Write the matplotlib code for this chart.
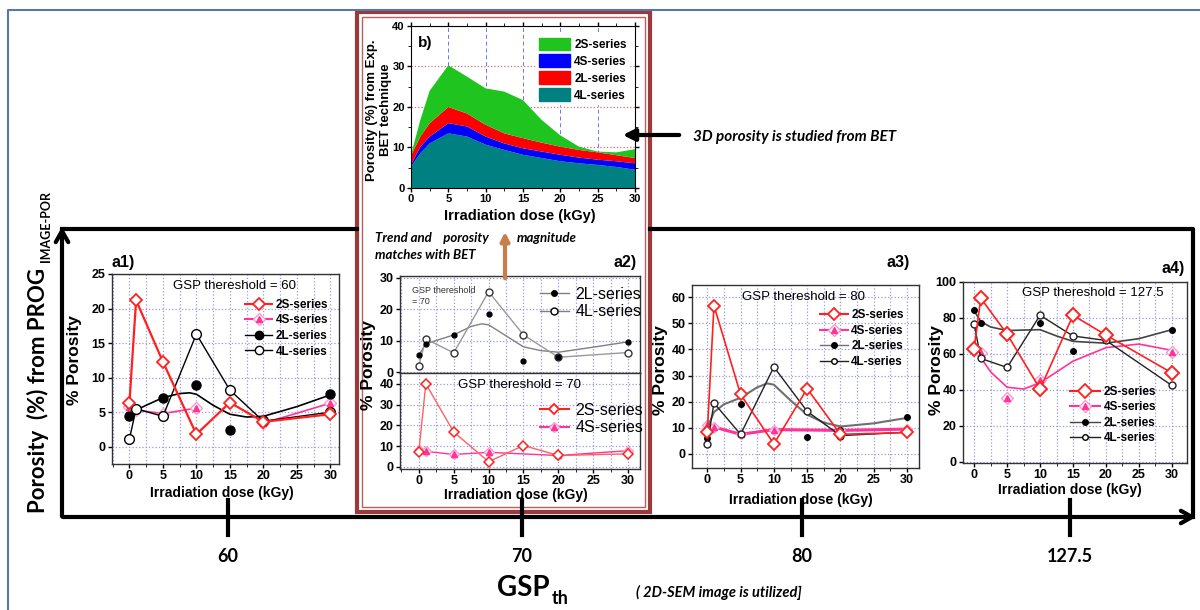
import numpy as np
import matplotlib.pyplot as plt
from matplotlib.patches import Rectangle, Patch
from matplotlib.lines import Line2D
from matplotlib.ticker import MultipleLocator

plt.rcParams['font.family'] = ['Liberation Sans', 'DejaVu Sans']

W, H = 1200, 610

# ---- data ----
dose = [0, 1, 5, 10, 15, 20, 30]

# a1) GSP threshold = 60
a1_2s = [6.3, 21.2, 12.3, 1.8, 6.4, 3.6, 4.7]
a1_4s = [5.8, 5.3, 4.8, 5.6, np.nan, 3.4, 6.3]
a1_2l = [4.5, np.nan, 7.0, 8.9, 2.4, 3.8, 7.6]
a1_4l = [1.1, 5.5, 4.4, 16.3, 8.2, 3.7, 5.0]
a1_2l_fit_x = [0, 1, 2.5, 5, 7.5, 9, 10, 12.5, 15, 17.5, 20, 25, 30]
a1_2l_fit_y = [4.6, 5.3, 6.0, 7.1, 7.7, 7.8, 7.6, 6.0, 4.7, 4.3, 4.4, 5.8, 7.5]

# a2) GSP threshold = 70
a2_2l = [5.3, 9.0, 11.8, 18.5, 3.5, 4.7, 9.6]
a2_4l = [2.0, 10.5, 6.1, 25.5, 11.8, 4.7, 6.2]
a2_2l_fit_x = [0, 1, 2.5, 5, 7.5, 9, 10, 12.5, 15, 17.5, 20, 25, 30]
a2_2l_fit_y = [5.3, 9.0, 10.0, 11.8, 14.5, 15.3, 15.0, 11.5, 8.0, 6.8, 6.3, 7.9, 9.6]
a2_2s = [7.3, 40.0, 16.8, 2.5, 10.3, 5.5, 6.3]
a2_4s = [8.0, 7.5, 6.0, 7.0, np.nan, 5.5, 7.8]

# a3) GSP threshold = 80
a3_2s = [8.3, 56.8, 22.8, 3.8, 25.0, 7.5, 8.2]
a3_4s = [11.0, 10.3, 7.5, 9.3, np.nan, 9.0, 9.5]
a3_2l = [6.2, np.nan, 19.3, np.nan, 6.5, 9.0, 14.0]
a3_4l = [3.7, 19.5, 7.5, 33.3, 16.3, 7.0, 8.3]
a3_2l_fit_x = [0, 1, 2.5, 5, 7.5, 9, 10, 12.5, 15, 17.5, 20, 25, 30]
a3_2l_fit_y = [10.0, 16.0, 19.0, 21.5, 25.5, 27.0, 26.5, 20.5, 15.0, 12.0, 10.5, 11.7, 13.8]

# a4) GSP threshold = 127.5
a4_2s = [63.0, 91.0, 71.0, 40.5, 81.5, 70.5, 49.5]
a4_4s = [63.0, 60.5, 35.5, 45.5, np.nan, 71.0, 61.0]
a4_2l = [84.5, 77.0, 71.5, 77.0, 61.5, 67.5, 73.5]
a4_4l = [76.5, 57.5, 52.5, 81.5, 70.0, 67.5, 42.5]
a4_2l_fit_x = [0, 1, 2.5, 5, 7.5, 10, 12.5, 15, 20, 25, 30]
a4_2l_fit_y = [84.0, 78.0, 75.0, 73.0, 73.3, 73.5, 70.0, 67.0, 66.0, 68.5, 73.5]
a4_4s_fit_x = [0, 1, 2.5, 5, 7.5, 10, 15, 20, 25, 30]
a4_4s_fit_y = [64.0, 58.0, 50.0, 41.5, 40.5, 44.0, 56.0, 63.5, 65.5, 62.0]

# b) BET porosity, stacked layers (bottom to top: 4L, 4S, 2L, 2S)
bet_dose = [0, 1.25, 2.5, 5, 7.5, 10, 12.5, 15, 17.5, 20, 22.5, 25, 27.5, 30]
bet_4l = [5.3, 8.6, 11.0, 13.5, 12.7, 10.7, 9.4, 8.2, 7.4, 6.6, 6.1, 5.7, 5.2, 4.5]
bet_4s = [0.4, 1.6, 1.7, 2.5, 2.5, 2.0, 1.6, 1.6, 1.6, 1.6, 1.4, 1.3, 1.4, 1.6]
bet_2l = [2.3, 2.5, 3.3, 4.0, 3.2, 2.9, 2.5, 2.5, 2.2, 2.0, 1.9, 1.8, 1.5, 1.3]
bet_2s = [0.2, 4.1, 8.0, 10.3, 9.1, 9.0, 10.3, 9.4, 5.6, 2.8, 0.8, 0.2, 0.7, 2.2]

gsp_ticks = [60, 70, 80, 127.5]
gsp_tick_px = [228, 522, 802, 1070]

RED = '#ff2020'
PINK = '#ff3399'
LPINK = '#ff99cc'
GRID = '#9a9ad8'
CAL = ['Lato', 'DejaVu Sans']

fig = plt.figure(figsize=(12, 6.1), dpi=100)


def panel(l, t, r, b):
    return fig.add_axes([l / W, 1 - b / H, (r - l) / W, (b - t) / H])


def style(ax, xlim, ylim, ystep, labels=True):
    ax.set_xlim(*xlim)
    ax.set_ylim(*ylim)
    ax.xaxis.set_major_locator(MultipleLocator(5))
    ax.xaxis.set_minor_locator(MultipleLocator(2.5))
    ax.yaxis.set_major_locator(MultipleLocator(ystep))
    ax.grid(True, which='major', color=GRID, ls=':', lw=0.9)
    ax.grid(True, which='minor', axis='x', color=GRID, ls=':', lw=0.9)
    ax.set_axisbelow(True)
    ax.tick_params(labelsize=9, width=1, length=3, pad=1.5)
    ax.tick_params(which='minor', length=2)
    if not labels:
        ax.tick_params(labelbottom=False)
    for lab in ax.get_xticklabels() + ax.get_yticklabels():
        lab.set_fontweight('bold')
    for s in ax.spines.values():
        s.set_color('#333333')
        s.set_linewidth(1)


def drop_nan(x, y):
    x = np.asarray(x, float)
    y = np.asarray(y, float)
    m = ~np.isnan(y)
    return x[m], y[m]


def plot_4s(ax, y, lw, ms, gap=False):
    x = np.asarray(dose, float)
    if gap:
        ax.plot(x, y, color=PINK, lw=lw)
    else:
        ax.plot(*drop_nan(x, y), color=PINK, lw=lw)
    ax.plot(x, y, ls='none', marker='D', ms=ms, mfc='white', mec=LPINK, mew=1)
    ax.plot(x, y, ls='none', marker='^', ms=ms - 1, mfc=PINK, mec=PINK)


def h2s(ms=6):
    return Line2D([], [], color=RED, lw=1.5, marker='D', ms=ms, mfc='white', mec=RED, mew=1.3)


def h4s(ms=6):
    return (Line2D([], [], color=PINK, lw=1.5, marker='D', ms=ms, mfc='white', mec=LPINK),
            Line2D([], [], ls='none', marker='^', ms=ms - 1, mfc=PINK, mec=PINK))


def h2l(ms=5, c='black'):
    return Line2D([], [], color=c, lw=1, marker='o', ms=ms, mfc='black', mec='black')


def h4l(ms=5, c='black'):
    return Line2D([], [], color=c, lw=1, marker='o', ms=ms, mfc='white', mec='black')


leg_font = {'weight': 'bold', 'size': 8.5}

# ---- a1 ----
ax1 = panel(112, 274, 339, 464)
plot_4s(ax1, a1_4s, 1.2, 6, gap=True)
ax1.plot(a1_2l_fit_x, a1_2l_fit_y, color='black', lw=1.2)
ax1.plot(dose, a1_2l, ls='none', marker='o', ms=6.5, mfc='black', mec='black')
ax1.plot(dose, a1_4l, color='black', lw=1, marker='o', ms=7, mfc='white', mec='black')
ax1.plot(dose, a1_2s, color=RED, lw=1.6, marker='D', ms=6.5, mfc='white', mec=RED, mew=1.3)
style(ax1, (-2.6, 31.3), (-2.5, 25), 5)
ax1.text(0.54, 0.935, 'GSP thereshold = 60', transform=ax1.transAxes, ha='center', va='center', fontsize=9.5)
ax1.legend([h2s(), h4s(), h2l(6), h4l(6)], ['2S-series', '4S-series', '2L-series', '4L-series'],
           loc='upper left', bbox_to_anchor=(0.56, 0.9), frameon=False, prop=leg_font,
           handlelength=2.3, handletextpad=0.3, labelspacing=0.3, borderpad=0)

# ---- a2 (two stacked panels) ----
ax2t = panel(400, 276, 640, 373)
ax2t.plot(a2_2l_fit_x, a2_2l_fit_y, color='#808080', lw=1)
ax2t.plot(dose, a2_4l, color='#999999', lw=1, marker='o', ms=5, mfc='white', mec='#333333')
ax2t.plot(dose, a2_2l, ls='none', marker='o', ms=3.5, mfc='black', mec='black')
style(ax2t, (-2.7, 31.7), (-0.3, 30.5), 10, labels=False)
ax2t.text(0.05, 0.9, 'GSP thereshold\n= 70', transform=ax2t.transAxes, ha='left', va='top',
          fontsize=6.5, color='#333333', linespacing=1.4)
ax2t.legend([h2l(4, '#808080'), h4l(5, '#808080')], ['2L-series', '4L-series'],
            loc='upper left', bbox_to_anchor=(0.55, 0.97), frameon=False,
            prop={'weight': 'normal', 'size': 11.5}, handlelength=1.8, handletextpad=0.4,
            labelspacing=0.15, borderpad=0)

ax2b = panel(400, 373, 640, 469)
plot_4s(ax2b, a2_4s, 1, 5)
ax2b.plot(dose, a2_2s, color='#ff6060', lw=1, marker='D', ms=5.5, mfc='white', mec=RED, mew=1.1)
style(ax2b, (-2.7, 31.7), (-1, 45.2), 10)
ax2b.text(0.5, 0.88, 'GSP thereshold = 70', transform=ax2b.transAxes, ha='center', va='center', fontsize=9.5)
ax2b.legend([h2s(5.5), h4s(5.5)], ['2S-series', '4S-series'],
            loc='upper left', bbox_to_anchor=(0.55, 0.77), frameon=False,
            prop={'weight': 'normal', 'size': 11.5}, handlelength=1.8, handletextpad=0.4,
            labelspacing=0.15, borderpad=0)

# ---- a3 ----
ax3 = panel(692, 285, 919, 468)
plot_4s(ax3, a3_4s, 2.2, 5.5)
ax3.plot(a3_2l_fit_x, a3_2l_fit_y, color='#707070', lw=1.5)
ax3.plot(dose, a3_2l, ls='none', marker='o', ms=4, mfc='black', mec='black')
ax3.plot(dose, a3_4l, color='#222222', lw=1, marker='o', ms=5, mfc='white', mec='#222222')
ax3.plot(dose, a3_2s, color=RED, lw=1.2, marker='D', ms=6.5, mfc='white', mec=RED, mew=1.3)
style(ax3, (-2.3, 31.8), (-5.4, 64.7), 10)
ax3.text(0.49, 0.935, 'GSP thereshold = 80', transform=ax3.transAxes, ha='center', va='center', fontsize=9.5)
ax3.legend([h2s(), h4s(), h2l(4, '#707070'), h4l(4, '#222222')],
           ['2S-series', '4S-series', '2L-series', '4L-series'],
           loc='upper left', bbox_to_anchor=(0.54, 0.9), frameon=False, prop=leg_font,
           handlelength=2.3, handletextpad=0.3, labelspacing=0.3, borderpad=0)

# ---- a4 ----
ax4 = panel(963, 282, 1187, 463)
ax4.plot(a4_4s_fit_x, a4_4s_fit_y, color=PINK, lw=1.2)
ax4.plot(dose, a4_4s, ls='none', marker='D', ms=6, mfc='white', mec=LPINK, mew=1)
ax4.plot(dose, a4_4s, ls='none', marker='^', ms=5, mfc=PINK, mec=PINK)
ax4.plot(a4_2l_fit_x, a4_2l_fit_y, color='#444444', lw=1.2)
ax4.plot(dose, a4_2l, ls='none', marker='o', ms=4, mfc='black', mec='black')
ax4.plot(dose, a4_4l, color='#222222', lw=1, marker='o', ms=5, mfc='white', mec='#222222')
ax4.plot(dose, a4_2s, color=RED, lw=1.2, marker='D', ms=7, mfc='white', mec=RED, mew=1.4)
style(ax4, (-1.7, 32.3), (-0.6, 100), 20)
ax4.text(0.58, 0.94, 'GSP thereshold = 127.5', transform=ax4.transAxes, ha='center', va='center', fontsize=9.5)
ax4.legend([h2s(7), h4s(), h2l(4, '#444444'), h4l(4, '#222222')],
           ['2S-series', '4S-series', '2L-series', '4L-series'],
           loc='upper left', bbox_to_anchor=(0.45, 0.46), frameon=False, prop=leg_font,
           handlelength=2.6, handletextpad=0.3, labelspacing=0.3, borderpad=0)

# ---- b) BET ----
axb = panel(411, 26, 635, 188)
axb.stackplot(bet_dose, bet_4l, bet_4s, bet_2l, bet_2s,
              colors=['#008080', '#0000ff', '#ff0000', '#1fc41f'], lw=0)
axb.set_xlim(0, 30)
axb.set_ylim(0, 40)
axb.xaxis.set_major_locator(MultipleLocator(5))
axb.xaxis.set_minor_locator(MultipleLocator(2.5))
axb.yaxis.set_major_locator(MultipleLocator(10))
axb.yaxis.set_minor_locator(MultipleLocator(5))
axb.grid(True, axis='y', color='#d07070', ls=':', lw=0.9)
axb.grid(True, axis='x', color='#7070ff', ls=(0, (4, 3)), lw=0.7)
axb.set_axisbelow(True)
axb.tick_params(labelsize=8, width=1, length=3, pad=1.5, top=True, right=True)
axb.tick_params(which='minor', length=2, top=True, right=True)
for lab in axb.get_xticklabels() + axb.get_yticklabels():
    lab.set_fontweight('bold')
axb.text(0.03, 0.94, 'b)', transform=axb.transAxes, ha='left', va='top', fontsize=11, fontweight='bold')
lg = axb.legend([Patch(color='#1fc41f'), Patch(color='#0000ff'), Patch(color='#ff0000'), Patch(color='#008080')],
                ['2S-series', '4S-series', '2L-series', '4L-series'],
                loc='upper right', bbox_to_anchor=(1.0, 0.98), frameon=True, prop=leg_font,
                handlelength=2.6, handleheight=1.3, handletextpad=0.4, labelspacing=0.3,
                borderpad=0.2, fancybox=False, edgecolor='white', framealpha=1)

# ---- overlay: frames, arrows, annotations ----
ov = fig.add_axes([0, 0, 1, 1])
ov.set_xlim(0, W)
ov.set_ylim(H, 0)
ov.axis('off')
ov.patch.set_alpha(0)

# slide border
ov.plot([8, 8, 1200], [612, 10, 10], color='#5577aa', lw=1.5)

# red frame around b) and a2)
ov.add_patch(Rectangle((357, 12), 293, 500, fill=False, ec='#9b3a3a', lw=3))
ov.add_patch(Rectangle((362, 17), 283, 490, fill=False, ec='#b86060', lw=1))

# big axis box
ov.plot([62, 357], [229, 229], color='black', lw=3)
ov.plot([650, 1193, 1193], [229, 229, 517], color='black', lw=3)
ov.annotate('', xy=(62, 224), xytext=(62, 519),
            arrowprops=dict(arrowstyle='->, head_length=0.8, head_width=0.45', lw=3, color='black'))
ov.annotate('', xy=(1199, 517), xytext=(60, 517),
            arrowprops=dict(arrowstyle='->, head_length=0.8, head_width=0.45', lw=3, color='black'))
for px, val in zip(gsp_tick_px, gsp_ticks):
    ov.plot([px, px], [500, 535], color='black', lw=3)
    ov.text(px, 557, f'{val:g}', ha='center', va='center', fontsize=13, fontweight='bold', family=CAL)

ov.text(497, 588, 'GSP', ha='left', va='center', fontsize=20, fontweight='bold', family=CAL)
ov.text(552, 598, 'th', ha='left', va='center', fontsize=13, fontweight='bold', family=CAL)
ov.text(636, 592, '( 2D-SEM image is utilized]', ha='left', va='center', fontsize=10.5,
        fontweight='bold', style='italic', family=CAL)

ov.text(38, 513, 'Porosity  (%) from PROG', rotation=90, ha='center', va='bottom',
        fontsize=16, fontweight='bold', family=CAL)
ov.text(46, 262, 'IMAGE-POR', rotation=90, ha='center', va='bottom',
        fontsize=9, fontweight='bold', family=CAL)

# panel labels and axis titles
for xx, yy, s, ha in [(112, 262, 'a1)', 'left'), (637, 263, 'a2)', 'right'),
                      (910, 262, 'a3)', 'right'), (1185, 268, 'a4)', 'right')]:
    ov.text(xx, yy, s, ha=ha, va='center', fontsize=11.5, fontweight='bold')

for xx, yy in [(222, 493), (516, 495), (801, 500), (1070, 490)]:
    ov.text(xx, yy, 'Irradiation dose (kGy)', ha='center', va='center', fontsize=10, fontweight='bold')
for xx, yy in [(75, 360), (368, 365), (660, 370), (937, 370)]:
    ov.text(xx, yy, '% Porosity', rotation=90, ha='center', va='center', fontsize=12.5, fontweight='bold')

ov.text(520, 216, 'Irradiation dose (kGy)', ha='center', va='center', fontsize=10.5, fontweight='bold')
ov.text(379, 110, 'Porosity (%) from Exp.\nBET technique', rotation=90, ha='center', va='center',
        fontsize=9.5, fontweight='bold', linespacing=1.25)

# annotations
ov.annotate('', xy=(620, 135), xytext=(682, 135),
            arrowprops=dict(arrowstyle='-|>, head_length=0.7, head_width=0.35', lw=3, color='black'))
ov.text(693, 137, '3D porosity is studied from BET', ha='left', va='center', fontsize=11,
        fontweight='bold', style='italic', family=CAL)

ov.annotate('', xy=(505, 229), xytext=(505, 281),
            arrowprops=dict(arrowstyle='-|>, head_length=0.5, head_width=0.25', lw=3, color='#c87d4a'))
ov.text(375, 238, 'Trend and    porosity', ha='left', va='center', fontsize=9.5,
        fontweight='bold', style='italic', family=CAL)
ov.text(517, 238, 'magnitude', ha='left', va='center', fontsize=9.5,
        fontweight='bold', style='italic', family=CAL)
ov.text(375, 255, 'matches with BET', ha='left', va='center', fontsize=9.5,
        fontweight='bold', style='italic', family=CAL)

fig.savefig('out.png', dpi=100)
